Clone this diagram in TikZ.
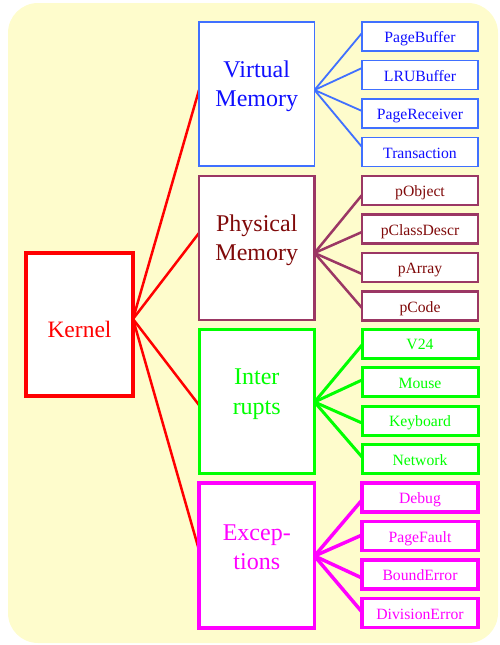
\documentclass[tikz,border=0pt]{standalone}
\usepackage{fontspec}
\setmainfont{Liberation Serif}
\definecolor{bg}{RGB}{254,252,204}
\definecolor{vmline}{RGB}{64,112,255}
\definecolor{vmtext}{RGB}{16,16,255}
\definecolor{pmline}{RGB}{155,55,100}
\definecolor{pmtext}{RGB}{128,10,10}
\definecolor{irq}{RGB}{0,255,0}
\definecolor{exc}{RGB}{255,0,255}
\pgfdeclarelayer{back}
\pgfdeclarelayer{lines}
\pgfsetlayers{back,lines,main}
\tikzset{
  bigbox/.style={draw, fill=white, minimum width=115.5pt, minimum height=144pt,
    inner sep=0pt, outer sep=0pt},
  smallbox/.style={draw, fill=white, minimum width=116pt, minimum height=29pt,
    inner sep=0pt, outer sep=0pt, text height=12.6pt, text depth=0pt,
    font=\fontsize{15.7}{18}\selectfont},
  biglabel/.style={align=center, inner sep=0pt, font=\fontsize{24}{29.5}\selectfont},
  kernelwire/.style={red, line width=2.5pt},
}
\begin{document}
\begin{tikzpicture}[x=1pt,y=-1pt]
\useasboundingbox (0,0) rectangle (500,645);
\begin{pgfonlayer}{back}
  \fill[bg, rounded corners=30pt] (8,3) rectangle (498,643);
\end{pgfonlayer}

% root
\node[bigbox, draw=red, line width=3.5pt, minimum width=107pt, minimum height=143pt]
  (kernel) at (79.5,324.5) {};
\node[inner sep=0pt, text=red, font=\fontsize{23.5}{28}\selectfont]
  (kernelname) at (79.5,329) {Kernel};

% subsystems
\node[bigbox, draw=vmline, line width=1.8pt] (vm) at (256.75,94) {};
\node[biglabel, text=vmtext] (vmname) at (256.75,86.5) {Virtual\\Memory};

\node[bigbox, draw=pmline, line width=2.5pt] (pm) at (256.75,248) {};
\node[biglabel, text=pmtext] (pmname) at (256.75,240.5) {Physical\\Memory};

\node[bigbox, draw=irq, line width=3pt] (irqbox) at (256.75,401) {};
\node[biglabel, text=irq] (irqname) at (256.75,394) {Inter\\rupts};

\node[bigbox, draw=exc, line width=3.5pt, minimum height=145pt] (excbox) at (256.75,555.5) {};
\node[biglabel, text=exc] (excname) at (256.75,547.5) {Excep-\\tions};

\begin{pgfonlayer}{lines}
  \draw[kernelwire] ([yshift=5.5pt]kernel.east) -- ([yshift=4pt]vm.west);
  \draw[kernelwire] ([yshift=5.5pt]kernel.east) -- ([yshift=15pt]pm.west);
  \draw[kernelwire] ([yshift=5.5pt]kernel.east) -- ([yshift=-4pt]irqbox.west);
  \draw[kernelwire] ([yshift=5.5pt]kernel.east) -- ([yshift=5.5pt]excbox.west);
\end{pgfonlayer}

% virtual memory components
\foreach \nm/\txt/\dy [count=\k from 0] in
  {pagebuffer/PageBuffer/3.5, lrubuffer/LRUBuffer/7,
   pagereceiver/PageReceiver/2.5, transaction/Transaction/5}{
  \node[smallbox, draw=vmline, line width=1.8pt, text=vmtext] (\nm) at (420,36.5+38.5*\k) {\txt};
  \begin{pgfonlayer}{lines}
    \draw[vmline, line width=1.8pt] ([yshift=4pt]vm.east) -- ([yshift=\dy pt]\nm.west);
  \end{pgfonlayer}
}

% physical memory components
\foreach \nm/\txt/\dy [count=\k from 0] in
  {pobject/pObject/-4.5, pclassdescr/pClassDescr/-3,
   parray/pArray/-6.5, pcode/pCode/-2}{
  \node[smallbox, draw=pmline, line width=2.5pt, text=pmtext] (\nm) at (420,190.5+38.5*\k) {\txt};
  \begin{pgfonlayer}{lines}
    \draw[pmline, line width=2.5pt] ([yshift=-5pt]pm.east) -- ([yshift=\dy pt]\nm.west);
  \end{pgfonlayer}
}

% interrupt sources
\foreach \nm/\txt/\dy [count=\k from 0] in
  {vtwentyfour/V24/-1.5, mouse/Mouse/2,
   keyboard/Keyboard/-2.5, network/Network/2}{
  \node[smallbox, draw=irq, line width=3pt, text=irq] (\nm) at (420,343.5+38.5*\k) {\txt};
  \begin{pgfonlayer}{lines}
    \draw[irq, line width=3pt] ([yshift=-1pt]irqbox.east) -- ([yshift=\dy pt]\nm.west);
  \end{pgfonlayer}
}

% exception kinds
\foreach \nm/\txt/\dy [count=\k from 0] in
  {debug/Debug/-2.5, pagefault/PageFault/1,
   bounderror/BoundError/-3.5, divisionerror/DivisionError/1}{
  \node[smallbox, draw=exc, line width=3.5pt, text=exc] (\nm) at (420,497.5+38.5*\k) {\txt};
  \begin{pgfonlayer}{lines}
    \draw[exc, line width=3.5pt] ([yshift=-0.5pt]excbox.east) -- ([yshift=\dy pt]\nm.west);
  \end{pgfonlayer}
}
\end{tikzpicture}
\end{document}
